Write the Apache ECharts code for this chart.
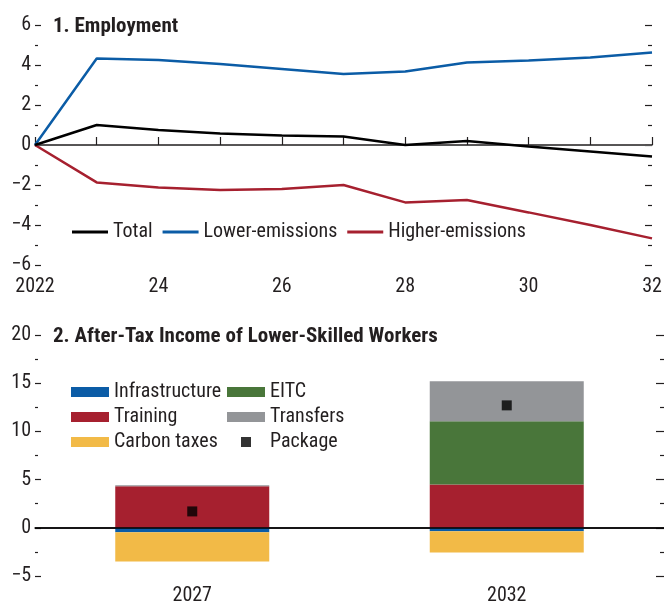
<!DOCTYPE html>
<html>
<head>
<meta charset="utf-8">
<script src="https://cdn.jsdelivr.net/npm/echarts@6/dist/echarts.min.js"></script>
<style>
html,body{margin:0;padding:0;background:#fff;}
#chart{width:664px;height:603px;}
</style>
</head>
<body>
<div id="chart"></div>
<script>
// ---- Panel 1: Employment ----
var years = ['2022','2023','2024','2025','2026','2027','2028','2029','2030','2031','2032'];
var yearTickLabels = ['2022','','24','','26','','28','','30','','32'];
var totalEmp = [0, 1.0, 0.75, 0.58, 0.47, 0.42, 0.0, 0.2, -0.08, -0.33, -0.58];
var lowerEmissions = [0, 4.33, 4.25, 4.05, 3.8, 3.55, 3.67, 4.12, 4.22, 4.38, 4.62];
var higherEmissions = [0, -1.87, -2.13, -2.25, -2.2, -2.0, -2.87, -2.75, -3.37, -4.0, -4.67];

// ---- Panel 2: After-tax income ----
var incomeYears = ['2027','2032'];
var infrastructure = [-0.45, -0.35];
var training = [4.3, 4.5];
var eitc = [0, 6.55];
var transfers = [0.12, 4.15];
var carbonTaxes = [-3.05, -2.2];
var packageVals = [1.7, 12.7];

var FONT = '"Liberation Sans Narrow", "Arial Narrow", "Roboto Condensed", "DejaVu Sans Condensed", sans-serif';
var TXT = '#231f20';
var BLUE = '#0b5ca6', RED = '#a6202f', GREEN = '#49763a', GRAY = '#939598', YELLOW = '#f2ba47';
var FS = 20;

function minus(v){ return String(v).replace('-', '\u2212'); }

var chart = echarts.init(document.getElementById('chart'), null, {renderer:'canvas'});

var baseY = {
  axisLine:{show:false},
  splitLine:{show:false},
  axisTick:{show:true, inside:true, length:6, lineStyle:{color:TXT, width:1.2}},
  minorTick:{show:true, splitNumber:2, length:3, lineStyle:{color:TXT, width:1.2}},
  minorSplitLine:{show:false}
};

var option = {
  animation:false,
  backgroundColor:'#fff',
  textStyle:{fontFamily:FONT, color:TXT},
  title:[
    {text:'1. Employment', left:53, top:16, padding:0,
     textStyle:{fontFamily:FONT, fontSize:21, fontWeight:'bold', color:TXT, lineHeight:22}},
    {text:'2. After-Tax Income of Lower-Skilled Workers', left:53, top:326, padding:0,
     textStyle:{fontFamily:FONT, fontSize:21, fontWeight:'bold', color:TXT, lineHeight:22}}
  ],
  legend:[
    {data:[{name:'Total', icon:'rect'},{name:'Lower-emissions', icon:'rect'},{name:'Higher-emissions', icon:'rect'}],
     left:72, top:222, padding:0,
     orient:'horizontal', itemWidth:36, itemHeight:3, itemGap:10,
     textStyle:{fontFamily:FONT, fontSize:FS, color:TXT, lineHeight:20}},
    {data:[{name:'Infrastructure', icon:'rect'},{name:'Training', icon:'rect'},{name:'Carbon taxes', icon:'rect'}],
     left:71, top:382, padding:0, orient:'vertical', itemWidth:38, itemHeight:10, itemGap:5,
     textStyle:{fontFamily:FONT, fontSize:FS, color:TXT, lineHeight:20}},
    {data:[{name:'EITC', icon:'rect'},{name:'Transfers', icon:'rect'},{name:'Package', icon:'path://M0,0L10,0L10,10L0,10Z'}],
     left:227, top:382, padding:0, orient:'vertical', itemWidth:38, itemHeight:10, itemGap:5,
     symbolKeepAspect:true,
     textStyle:{fontFamily:FONT, fontSize:FS, color:TXT, lineHeight:20}}
  ],
  grid:[
    {left:35, top:25, width:617, height:240, containLabel:false, outerBoundsMode:'none'},
    {left:35, top:335, width:629, height:241, containLabel:false, outerBoundsMode:'none'}
  ],
  xAxis:[
    {type:'category', gridIndex:0, data:years, boundaryGap:false,
     axisLine:{show:true, lineStyle:{color:TXT, width:1.5}},
     axisTick:{show:true, inside:true, length:8, interval:0, lineStyle:{color:TXT, width:1.2}},
     axisLabel:{interval:0, margin:12, fontFamily:FONT, fontSize:FS, color:TXT,
       formatter:function(v, i){ return yearTickLabels[i]; }},
     splitLine:{show:false}},
    {type:'category', gridIndex:1, data:incomeYears, boundaryGap:true,
     axisLine:{show:true, lineStyle:{color:TXT, width:1.5}},
     axisTick:{show:true, inside:true, length:8, alignWithLabel:true, lineStyle:{color:TXT, width:1.2}},
     axisLabel:{margin:10, fontFamily:FONT, fontSize:FS, color:TXT},
     splitLine:{show:false}}
  ],
  yAxis:[
    Object.assign({}, baseY, {type:'value', gridIndex:0, position:'left', min:-6, max:6, interval:2,
      axisLabel:{margin:4, padding:[4,0,0,0], fontFamily:FONT, fontSize:FS, color:TXT, formatter:minus}}),
    Object.assign({}, baseY, {type:'value', gridIndex:0, position:'right', min:-6, max:6, interval:2,
      axisLabel:{show:false}, axisTick:{show:true, inside:true, length:7, lineStyle:{color:TXT, width:1.2}},
      minorTick:{show:true, splitNumber:2, length:4, lineStyle:{color:TXT, width:1.2}}}),
    Object.assign({}, baseY, {type:'value', gridIndex:1, position:'left', min:-5, max:20, interval:5,
      axisLabel:{margin:4, padding:[4,0,0,0], fontFamily:FONT, fontSize:FS, color:TXT, formatter:minus}}),
    Object.assign({}, baseY, {type:'value', gridIndex:1, position:'right', min:-5, max:20, interval:5,
      axisLabel:{show:false}, axisTick:{show:true, inside:true, length:8, lineStyle:{color:TXT, width:1.2}},
      minorTick:{show:true, splitNumber:2, length:4, lineStyle:{color:TXT, width:1.2}}})
  ],
  series:[
    {name:'Total', type:'line', xAxisIndex:0, yAxisIndex:0, data:totalEmp, symbol:'none',
     lineStyle:{color:'#000', width:2.5}, itemStyle:{color:'#000'}, z:4,
     markLine:{silent:true, symbol:['none','none'], label:{show:false},
       lineStyle:{color:'#555', width:1, type:'solid'}, data:[{yAxis:0}], z:1}},
    {name:'Lower-emissions', type:'line', xAxisIndex:0, yAxisIndex:0, data:lowerEmissions, symbol:'none',
     lineStyle:{color:BLUE, width:2.5}, itemStyle:{color:BLUE}, z:3},
    {name:'Higher-emissions', type:'line', xAxisIndex:0, yAxisIndex:0, data:higherEmissions, symbol:'none',
     lineStyle:{color:RED, width:2.5}, itemStyle:{color:RED}, z:3},

    {name:'Infrastructure', type:'bar', xAxisIndex:1, yAxisIndex:2, stack:'inc', barWidth:154,
     data:infrastructure, itemStyle:{color:BLUE}},
    {name:'Training', type:'bar', xAxisIndex:1, yAxisIndex:2, stack:'inc', barWidth:154,
     data:training, itemStyle:{color:RED}},
    {name:'EITC', type:'bar', xAxisIndex:1, yAxisIndex:2, stack:'inc', barWidth:154,
     data:eitc, itemStyle:{color:GREEN}},
    {name:'Transfers', type:'bar', xAxisIndex:1, yAxisIndex:2, stack:'inc', barWidth:154,
     data:transfers, itemStyle:{color:GRAY}},
    {name:'Carbon taxes', type:'bar', xAxisIndex:1, yAxisIndex:2, stack:'inc', barWidth:154,
     data:carbonTaxes, itemStyle:{color:YELLOW}},
    {name:'Package', type:'scatter', xAxisIndex:1, yAxisIndex:2, data:packageVals,
     symbol:'rect', symbolSize:10, itemStyle:{color:'#000'}, z:6,
     markLine:{silent:true, symbol:['none','none'], label:{show:false},
       lineStyle:{color:'#000', width:1.5, type:'solid'}, data:[{yAxis:0}]}}
  ]
};
chart.setOption(option);
</script>
</body>
</html>
